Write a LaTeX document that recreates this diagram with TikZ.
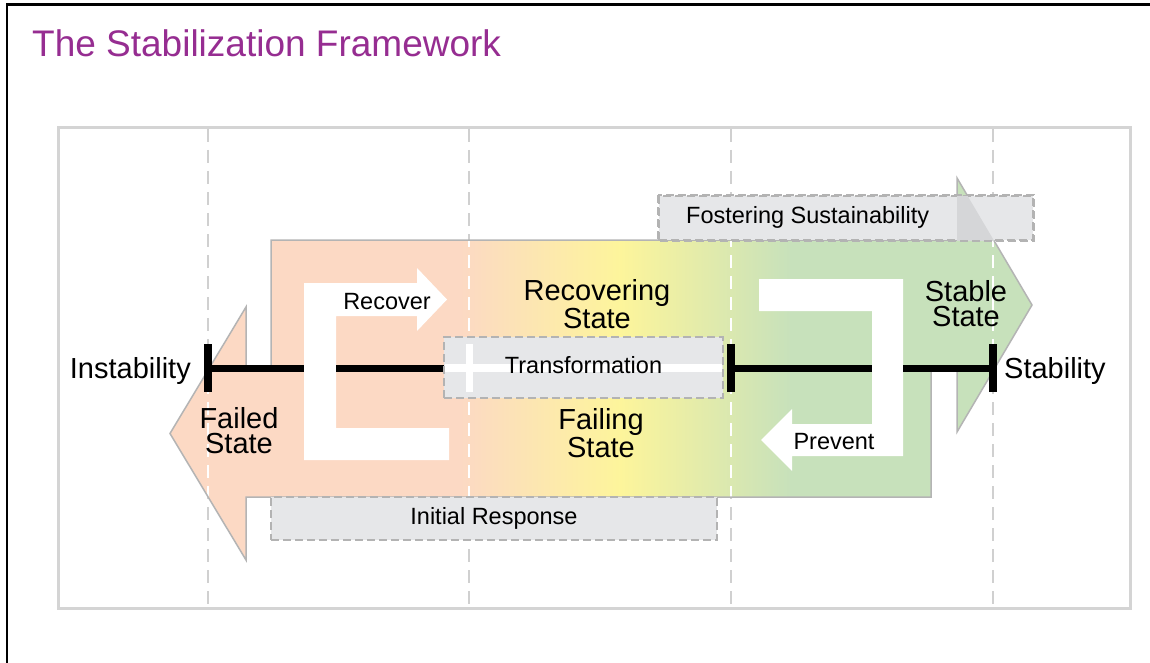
\documentclass[tikz,border=0pt]{standalone}
\usepackage{fontspec}
\setmainfont{Liberation Sans}
\definecolor{salmon}{HTML}{FCD9C4}
\definecolor{yel}{HTML}{FDF59B}
\definecolor{grn}{HTML}{C7E1BB}
\definecolor{boxfill}{HTML}{E6E7E9}
\definecolor{boxline}{HTML}{B3B3B3}
\definecolor{gridc}{HTML}{D0D0D0}
\definecolor{outerc}{HTML}{D4D4D4}
\definecolor{arrline}{HTML}{B4B4B4}
\definecolor{overlap}{HTML}{D5D6D8}
\definecolor{titlec}{RGB}{150,45,145}
\tikzset{
  biglab/.style={font=\fontsize{29}{25}\selectfont, align=center, inner sep=0pt},
  sidelab/.style={font=\fontsize{29}{33}\selectfont, inner sep=0pt},
  smalllab/.style={font=\fontsize{23.5}{27}\selectfont, inner sep=0pt},
  gbox/.style={draw=boxline, fill=boxfill, line width=2pt, dash pattern=on 8pt off 4pt, inner sep=0pt},
  gridline/.style={draw=gridc, line width=2.5pt, dash pattern=on 13pt off 8pt},
  blackbar/.style={line width=7pt},
  tickbar/.style={line width=8pt},
}
\begin{document}
\begin{tikzpicture}[x=1pt,y=-1pt]
\useasboundingbox (0,0) rectangle (1150,663);
\fill[white] (0,0) rectangle (1150,663);
% frame
\draw[line width=2.5pt] (1150,4.5) -- (7,4.5) -- (7,663);
% title
\node[anchor=base west, inner sep=0pt, font=\fontsize{37}{44}\selectfont, text=titlec] (title) at (32,57) {The Stabilization Framework};
% outer panel
\draw[draw=outerc, line width=3pt] (58.5,127.5) rectangle (1130.5,608.5);
% grid lines
\foreach \x in {208,469,731,993} \draw[gridline] (\x,129) -- (\x,607);
% big double arrow with gradient
\begin{scope}
\clip (271,240) -- (957,240) -- (957,178) -- (1032,305) -- (957,432) -- (957,370) -- (931,370) -- (931,497) -- (246,497) -- (246,560) -- (170,433.5) -- (246,307) -- (246,370) -- (271,370) -- cycle;
\fill[salmon] (165,170) rectangle (461,565);
\shade[left color=salmon, right color=yel] (460,170) rectangle (621,565);
\shade[left color=yel, right color=grn] (620,170) rectangle (791,565);
\fill[grn] (790,170) rectangle (1040,565);
\foreach \x in {208,469,731,993} \draw[gridline, draw=white] (\x,129) -- (\x,607);
\end{scope}
\draw[draw=arrline, line width=1.5pt, line join=miter] (271,240) -- (957,240) -- (957,178) -- (1032,305) -- (957,432) -- (957,370) -- (931,370) -- (931,497) -- (246,497) -- (246,560) -- (170,433.5) -- (246,307) -- (246,370) -- (271,370) -- cycle;
% white L arrows
\fill[white] (304,283) -- (417,283) -- (417,268) -- (447,299.5) -- (417,331) -- (417,316) -- (336,316) -- (336,428) -- (449,428) -- (449,460) -- (304,460) -- cycle;
\fill[white] (759,279) -- (903,279) -- (903,456) -- (792,456) -- (792,471) -- (761,440) -- (792,409) -- (792,424) -- (872,424) -- (872,311) -- (759,311) -- cycle;
% axis
\coordinate (tL) at (208,368);
\coordinate (tM) at (731,368);
\coordinate (tR) at (993,368);
\coordinate (g1a) at (304,368);
\coordinate (g1b) at (336,368);
\coordinate (g2a) at (444,368);
\coordinate (g3a) at (872,368);
\coordinate (g3b) at (903,368);
\draw[blackbar] (tL) -- (g1a);
\draw[blackbar] (g1b) -- (g2a);
\draw[blackbar] (tM) -- (g3a);
\draw[blackbar] (g3b) -- (tR);
\draw[tickbar] (208,344) -- (208,392);
\draw[tickbar] (731,344) -- (731,392);
\draw[tickbar] (993,344) -- (993,392);
% boxes
\node[gbox, minimum width=374pt, minimum height=44pt] (fosterbox) at (846,218) {};
\begin{scope}
\clip (659,196) rectangle (1033,240);
\fill[overlap] (957,178) -- (1032,305) -- (957,432) -- cycle;
\end{scope}
\draw[draw=boxline, line width=2pt, dash pattern=on 8pt off 4pt] (fosterbox.north west) rectangle (fosterbox.south east);
\node[gbox, minimum width=279pt, minimum height=61pt] (transbox) at (583.5,367.5) {};
\draw[line width=8pt, white] (445,368) -- (722,368);
\draw[line width=7pt, white] (469,344) -- (469,392);
\node[gbox, minimum width=446pt, minimum height=43pt] (initbox) at (494,518.5) {};
% box texts
\node[smalllab, anchor=base west] (fostertext) at (686,223) {Fostering Sustainability};
\node[smalllab, anchor=base] (transtext) at (583.5,373) {Transformation};
\node[smalllab, anchor=base] (inittext) at (494,524) {Initial Response};
% arrow labels
\node[smalllab, anchor=base] (recover) at (387,309) {Recover};
\node[smalllab, anchor=base] (prevent) at (834,449) {Prevent};
% state labels
\node[biglab] (recovering) at (597,304) {Recovering\\State};
\node[biglab] (failing) at (601,433) {Failing\\State};
\node[biglab] (failed) at (239,431) {Failed\\State};
\node[biglab] (stable) at (966,304) {Stable\\State};
% ends
\node[sidelab, anchor=base east] (instab) at (191,378) {Instability};
\node[sidelab, anchor=base west] (stab) at (1004,378) {Stability};
\end{tikzpicture}
\end{document}
